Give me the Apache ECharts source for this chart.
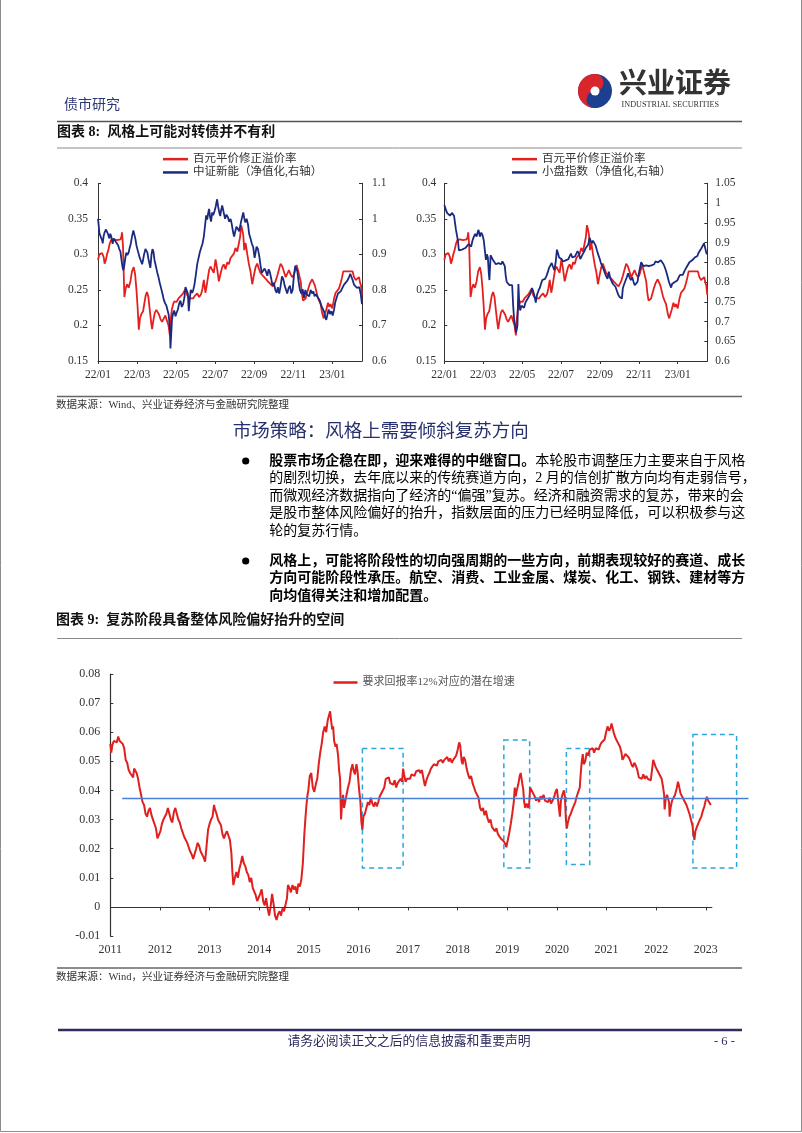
<!DOCTYPE html>
<html><head><meta charset="utf-8">
<script src="https://cdn.jsdelivr.net/npm/echarts@6/dist/echarts.min.js"></script>
<style>html,body{margin:0;padding:0;background:#fff}#main{width:802px;height:1133px}</style>
</head><body><div id="main"></div>
<script>
// ---------- DATA ----------
// Top charts: x = months since 2022-01-01
const monthTicks = [0, 2, 4, 6, 8, 10, 12];
const monthLabels = ['22/01', '22/03', '22/05', '22/07', '22/09', '22/11', '23/01'];
const premiumName = '百元平价修正溢价率';
const newEnergyName = '中证新能（净值化,右轴）';
const smallCapName = '小盘指数（净值化,右轴）';
// 百元平价修正溢价率
const premium = [[0.00,0.292],[0.07,0.300],[0.15,0.298],[0.21,0.302],[0.29,0.296],[0.34,0.287],[0.41,0.293],[0.46,0.300],[0.53,0.306],[0.60,0.315],[0.67,0.320],[0.72,0.322],[0.80,0.321],[0.89,0.323],[0.97,0.320],[1.06,0.322],[1.15,0.321],[1.20,0.325],[1.23,0.331],[1.28,0.312],[1.35,0.240],[1.42,0.252],[1.49,0.258],[1.57,0.253],[1.66,0.262],[1.74,0.276],[1.83,0.282],[1.90,0.272],[1.97,0.250],[2.03,0.225],[2.09,0.194],[2.15,0.210],[2.22,0.216],[2.31,0.220],[2.38,0.232],[2.44,0.242],[2.51,0.247],[2.58,0.240],[2.65,0.222],[2.72,0.205],[2.77,0.195],[2.84,0.208],[2.91,0.218],[2.99,0.222],[3.06,0.223],[3.13,0.215],[3.20,0.209],[3.28,0.205],[3.37,0.210],[3.45,0.214],[3.54,0.206],[3.61,0.200],[3.68,0.186],[3.73,0.210],[3.78,0.222],[3.85,0.230],[3.91,0.234],[4.02,0.233],[4.12,0.238],[4.22,0.240],[4.33,0.244],[4.43,0.249],[4.50,0.252],[4.56,0.243],[4.67,0.238],[4.77,0.240],[4.87,0.238],[4.97,0.242],[5.08,0.245],[5.18,0.240],[5.28,0.244],[5.35,0.252],[5.42,0.264],[5.50,0.246],[5.56,0.255],[5.62,0.266],[5.69,0.278],[5.76,0.283],[5.85,0.281],[5.93,0.274],[6.02,0.293],[6.10,0.280],[6.19,0.262],[6.27,0.272],[6.36,0.282],[6.44,0.286],[6.53,0.279],[6.62,0.289],[6.70,0.286],[6.79,0.295],[6.87,0.293],[6.96,0.301],[7.04,0.309],[7.13,0.304],[7.21,0.315],[7.28,0.325],[7.33,0.341],[7.38,0.336],[7.44,0.327],[7.49,0.306],[7.56,0.316],[7.64,0.301],[7.73,0.286],[7.81,0.276],[7.90,0.258],[7.98,0.270],[8.07,0.282],[8.15,0.287],[8.24,0.280],[8.32,0.274],[8.44,0.270],[8.58,0.266],[8.70,0.262],[8.84,0.258],[8.96,0.255],[9.09,0.262],[9.18,0.270],[9.26,0.278],[9.35,0.287],[9.44,0.283],[9.52,0.276],[9.61,0.268],[9.69,0.266],[9.78,0.278],[9.86,0.272],[9.95,0.268],[10.03,0.271],[10.12,0.280],[10.17,0.285],[10.24,0.278],[10.31,0.270],[10.38,0.262],[10.44,0.245],[10.50,0.235],[10.56,0.236],[10.63,0.238],[10.70,0.245],[10.77,0.252],[10.84,0.258],[10.91,0.262],[10.97,0.265],[11.04,0.264],[11.11,0.256],[11.18,0.248],[11.25,0.240],[11.32,0.235],[11.40,0.230],[11.49,0.216],[11.56,0.210],[11.62,0.212],[11.69,0.222],[11.78,0.232],[11.85,0.226],[11.91,0.230],[12.00,0.224],[12.09,0.238],[12.17,0.246],[12.26,0.249],[12.34,0.252],[12.43,0.260],[12.50,0.268],[12.56,0.276],[12.67,0.276],[12.77,0.275],[12.87,0.276],[12.97,0.274],[13.04,0.276],[13.11,0.268],[13.20,0.264],[13.28,0.266],[13.37,0.268],[13.42,0.260],[13.47,0.256],[13.52,0.243]];
// 中证新能（净值化）
const newEnergy = [[0.00,1.000],[0.03,0.985],[0.07,0.960],[0.12,0.955],[0.15,0.948],[0.21,0.940],[0.24,0.931],[0.29,0.952],[0.34,0.962],[0.41,0.970],[0.46,0.966],[0.51,0.958],[0.58,0.945],[0.63,0.958],[0.68,0.950],[0.75,0.930],[0.80,0.945],[0.87,0.940],[0.92,0.935],[0.97,0.930],[1.03,0.926],[1.09,0.915],[1.15,0.908],[1.20,0.885],[1.25,0.866],[1.30,0.855],[1.35,0.870],[1.40,0.890],[1.45,0.905],[1.50,0.898],[1.57,0.905],[1.62,0.918],[1.68,0.930],[1.74,0.950],[1.81,0.967],[1.86,0.962],[1.91,0.945],[1.97,0.925],[2.03,0.912],[2.09,0.900],[2.14,0.890],[2.21,0.880],[2.26,0.872],[2.31,0.885],[2.36,0.900],[2.43,0.915],[2.48,0.912],[2.53,0.905],[2.58,0.888],[2.63,0.875],[2.68,0.862],[2.74,0.900],[2.79,0.915],[2.84,0.908],[2.89,0.885],[2.96,0.868],[3.03,0.850],[3.09,0.838],[3.16,0.820],[3.23,0.805],[3.30,0.790],[3.37,0.772],[3.44,0.762],[3.50,0.756],[3.57,0.752],[3.62,0.730],[3.68,0.690],[3.71,0.635],[3.74,0.665],[3.79,0.718],[3.85,0.735],[3.90,0.742],[3.97,0.726],[4.02,0.735],[4.09,0.745],[4.15,0.760],[4.22,0.770],[4.29,0.752],[4.36,0.760],[4.43,0.780],[4.48,0.808],[4.55,0.812],[4.60,0.790],[4.65,0.740],[4.70,0.775],[4.75,0.800],[4.82,0.792],[4.87,0.798],[4.94,0.815],[5.01,0.842],[5.08,0.872],[5.15,0.890],[5.21,0.905],[5.28,0.918],[5.35,0.930],[5.42,0.950],[5.49,0.985],[5.54,1.010],[5.59,0.998],[5.64,1.015],[5.69,1.028],[5.74,1.005],[5.79,0.992],[5.85,1.018],[5.90,1.010],[5.97,1.022],[6.03,1.035],[6.10,1.055],[6.15,1.035],[6.21,1.018],[6.26,1.008],[6.31,1.025],[6.36,1.038],[6.41,1.025],[6.46,1.012],[6.51,1.000],[6.58,1.012],[6.65,1.005],[6.72,0.992],[6.79,1.000],[6.85,0.985],[6.92,0.962],[6.97,0.950],[7.03,0.965],[7.09,0.978],[7.16,0.972],[7.23,0.965],[7.30,0.985],[7.36,1.000],[7.44,1.018],[7.49,1.002],[7.54,0.990],[7.61,1.000],[7.68,0.985],[7.74,0.958],[7.81,0.945],[7.88,0.930],[7.95,0.920],[8.02,0.890],[8.07,0.905],[8.12,0.922],[8.19,0.915],[8.26,0.895],[8.32,0.870],[8.39,0.848],[8.46,0.852],[8.53,0.860],[8.60,0.852],[8.67,0.840],[8.74,0.858],[8.80,0.850],[8.87,0.832],[8.94,0.812],[9.01,0.820],[9.08,0.800],[9.15,0.792],[9.21,0.808],[9.28,0.790],[9.35,0.810],[9.42,0.838],[9.49,0.830],[9.56,0.812],[9.62,0.802],[9.69,0.790],[9.76,0.805],[9.83,0.812],[9.90,0.790],[9.97,0.800],[10.03,0.838],[10.10,0.868],[10.15,0.870],[10.21,0.852],[10.27,0.825],[10.34,0.800],[10.41,0.790],[10.48,0.802],[10.55,0.778],[10.62,0.800],[10.68,0.788],[10.75,0.792],[10.82,0.782],[10.89,0.800],[10.96,0.790],[11.03,0.796],[11.09,0.782],[11.16,0.788],[11.23,0.792],[11.30,0.775],[11.37,0.768],[11.44,0.755],[11.50,0.748],[11.57,0.740],[11.64,0.722],[11.69,0.716],[11.74,0.728],[11.81,0.745],[11.88,0.732],[11.95,0.740],[12.02,0.728],[12.09,0.745],[12.15,0.765],[12.22,0.778],[12.29,0.790],[12.36,0.786],[12.43,0.796],[12.51,0.805],[12.60,0.815],[12.68,0.820],[12.77,0.826],[12.85,0.835],[12.92,0.845],[12.97,0.840],[13.04,0.828],[13.11,0.815],[13.18,0.812],[13.25,0.806],[13.32,0.810],[13.38,0.808],[13.45,0.790],[13.52,0.760]];
// 小盘指数（净值化）
const smallCap = [[0.00,0.995],[0.03,1.000],[0.09,0.982],[0.14,0.975],[0.19,0.978],[0.24,0.970],[0.29,0.968],[0.34,0.965],[0.39,0.975],[0.44,0.980],[0.50,0.968],[0.55,0.950],[0.60,0.932],[0.65,0.928],[0.70,0.905],[0.75,0.880],[0.82,0.878],[0.91,0.882],[0.99,0.885],[1.08,0.886],[1.16,0.890],[1.25,0.896],[1.32,0.900],[1.38,0.890],[1.45,0.905],[1.52,0.915],[1.59,0.922],[1.66,0.915],[1.71,0.925],[1.76,0.932],[1.83,0.915],[1.90,0.925],[1.97,0.918],[2.03,0.905],[2.09,0.878],[2.14,0.856],[2.19,0.870],[2.24,0.862],[2.29,0.820],[2.32,0.805],[2.38,0.868],[2.44,0.862],[2.51,0.855],[2.58,0.850],[2.65,0.845],[2.72,0.840],[2.79,0.848],[2.85,0.850],[2.92,0.845],[2.99,0.852],[3.06,0.855],[3.11,0.840],[3.16,0.815],[3.21,0.800],[3.28,0.802],[3.35,0.792],[3.42,0.790],[3.49,0.792],[3.54,0.740],[3.59,0.705],[3.64,0.690],[3.69,0.672],[3.73,0.668],[3.76,0.690],[3.81,0.795],[3.85,0.750],[3.90,0.728],[3.97,0.740],[4.03,0.738],[4.10,0.735],[4.17,0.748],[4.24,0.752],[4.31,0.760],[4.38,0.765],[4.44,0.772],[4.51,0.785],[4.58,0.775],[4.65,0.762],[4.70,0.748],[4.77,0.768],[4.84,0.778],[4.91,0.785],[4.97,0.795],[5.04,0.805],[5.11,0.810],[5.18,0.808],[5.25,0.815],[5.32,0.825],[5.38,0.835],[5.45,0.842],[5.52,0.848],[5.59,0.838],[5.66,0.830],[5.73,0.852],[5.79,0.882],[5.85,0.872],[5.90,0.862],[5.97,0.865],[6.03,0.858],[6.10,0.852],[6.17,0.848],[6.24,0.855],[6.31,0.860],[6.38,0.858],[6.44,0.865],[6.51,0.872],[6.58,0.862],[6.65,0.858],[6.72,0.865],[6.79,0.868],[6.85,0.878],[6.92,0.872],[6.99,0.858],[7.06,0.865],[7.13,0.872],[7.20,0.878],[7.26,0.885],[7.33,0.888],[7.40,0.895],[7.47,0.912],[7.52,0.905],[7.57,0.898],[7.64,0.905],[7.71,0.910],[7.78,0.892],[7.85,0.880],[7.91,0.870],[7.98,0.860],[8.05,0.848],[8.12,0.840],[8.19,0.832],[8.26,0.822],[8.32,0.815],[8.39,0.808],[8.46,0.826],[8.53,0.810],[8.60,0.802],[8.67,0.795],[8.74,0.800],[8.80,0.788],[8.87,0.778],[8.94,0.768],[9.01,0.762],[9.08,0.760],[9.13,0.758],[9.18,0.785],[9.25,0.795],[9.32,0.800],[9.38,0.812],[9.45,0.822],[9.52,0.812],[9.59,0.805],[9.66,0.812],[9.73,0.800],[9.79,0.792],[9.86,0.788],[9.93,0.800],[10.00,0.822],[10.07,0.838],[10.12,0.850],[10.17,0.845],[10.24,0.840],[10.31,0.838],[10.38,0.842],[10.44,0.845],[10.51,0.840],[10.58,0.835],[10.65,0.842],[10.72,0.838],[10.79,0.845],[10.85,0.852],[10.92,0.855],[10.99,0.850],[11.06,0.852],[11.13,0.855],[11.20,0.850],[11.27,0.845],[11.33,0.838],[11.40,0.828],[11.47,0.815],[11.54,0.802],[11.61,0.792],[11.66,0.786],[11.71,0.795],[11.78,0.792],[11.85,0.800],[11.91,0.805],[11.98,0.804],[12.05,0.812],[12.12,0.818],[12.19,0.820],[12.26,0.818],[12.32,0.825],[12.39,0.832],[12.46,0.838],[12.53,0.842],[12.60,0.850],[12.67,0.850],[12.74,0.855],[12.80,0.858],[12.87,0.862],[12.94,0.865],[13.01,0.866],[13.08,0.875],[13.15,0.878],[13.21,0.885],[13.28,0.890],[13.35,0.898],[13.40,0.902],[13.44,0.895],[13.49,0.870]];

// Bottom chart: x = decimal year
const yearTicks = [2011,2012,2013,2014,2015,2016,2017,2018,2019,2020,2021,2022,2023];
const growthName = '要求回报率12%对应的潜在增速';
const growth = [[2011.00,0.0560],[2011.02,0.0530],[2011.04,0.0555],[2011.07,0.0570],[2011.10,0.0575],[2011.13,0.0565],[2011.16,0.0585],[2011.19,0.0570],[2011.22,0.0565],[2011.25,0.0560],[2011.28,0.0545],[2011.31,0.0505],[2011.34,0.0495],[2011.37,0.0470],[2011.40,0.0460],[2011.43,0.0455],[2011.46,0.0445],[2011.48,0.0475],[2011.50,0.0480],[2011.53,0.0460],[2011.56,0.0440],[2011.59,0.0410],[2011.62,0.0385],[2011.65,0.0360],[2011.68,0.0350],[2011.71,0.0320],[2011.74,0.0310],[2011.77,0.0330],[2011.80,0.0340],[2011.83,0.0315],[2011.86,0.0300],[2011.89,0.0300],[2011.92,0.0270],[2011.95,0.0235],[2011.98,0.0230],[2012.01,0.0260],[2012.04,0.0285],[2012.07,0.0300],[2012.10,0.0305],[2012.13,0.0320],[2012.16,0.0340],[2012.19,0.0320],[2012.22,0.0300],[2012.25,0.0290],[2012.28,0.0325],[2012.31,0.0340],[2012.34,0.0320],[2012.37,0.0300],[2012.40,0.0290],[2012.43,0.0270],[2012.46,0.0255],[2012.49,0.0240],[2012.52,0.0235],[2012.55,0.0220],[2012.58,0.0205],[2012.61,0.0190],[2012.64,0.0180],[2012.67,0.0165],[2012.70,0.0160],[2012.73,0.0200],[2012.76,0.0220],[2012.79,0.0210],[2012.82,0.0190],[2012.85,0.0195],[2012.88,0.0170],[2012.91,0.0155],[2012.94,0.0210],[2012.97,0.0265],[2013.00,0.0285],[2013.03,0.0300],[2013.06,0.0310],[2013.09,0.0350],[2013.11,0.0335],[2013.14,0.0320],[2013.17,0.0300],[2013.20,0.0290],[2013.23,0.0280],[2013.26,0.0250],[2013.29,0.0235],[2013.32,0.0250],[2013.35,0.0260],[2013.38,0.0255],[2013.41,0.0230],[2013.44,0.0185],[2013.46,0.0120],[2013.48,0.0075],[2013.51,0.0100],[2013.54,0.0120],[2013.57,0.0100],[2013.60,0.0130],[2013.63,0.0150],[2013.66,0.0175],[2013.69,0.0150],[2013.72,0.0140],[2013.75,0.0120],[2013.78,0.0110],[2013.81,0.0085],[2013.84,0.0100],[2013.87,0.0065],[2013.90,0.0060],[2013.93,0.0040],[2013.96,0.0020],[2013.99,0.0025],[2014.02,0.0045],[2014.05,0.0060],[2014.08,0.0020],[2014.11,0.0005],[2014.14,0.0030],[2014.17,-0.0005],[2014.20,-0.0030],[2014.23,0.0000],[2014.26,0.0045],[2014.29,0.0010],[2014.32,-0.0030],[2014.35,-0.0045],[2014.38,-0.0025],[2014.41,-0.0015],[2014.44,-0.0030],[2014.47,-0.0005],[2014.50,-0.0015],[2014.53,-0.0020],[2014.56,0.0030],[2014.58,0.0075],[2014.61,0.0065],[2014.64,0.0050],[2014.67,0.0075],[2014.70,0.0060],[2014.73,0.0070],[2014.76,0.0045],[2014.79,0.0080],[2014.82,0.0070],[2014.85,0.0095],[2014.88,0.0150],[2014.91,0.0250],[2014.93,0.0300],[2014.95,0.0345],[2014.97,0.0380],[2014.99,0.0400],[2015.02,0.0450],[2015.05,0.0460],[2015.08,0.0410],[2015.11,0.0395],[2015.14,0.0420],[2015.17,0.0440],[2015.20,0.0490],[2015.23,0.0530],[2015.26,0.0560],[2015.29,0.0600],[2015.32,0.0620],[2015.35,0.0600],[2015.38,0.0640],[2015.41,0.0660],[2015.43,0.0672],[2015.45,0.0640],[2015.47,0.0610],[2015.49,0.0620],[2015.51,0.0570],[2015.54,0.0550],[2015.56,0.0560],[2015.59,0.0520],[2015.61,0.0470],[2015.63,0.0440],[2015.65,0.0300],[2015.67,0.0360],[2015.69,0.0385],[2015.71,0.0340],[2015.73,0.0345],[2015.76,0.0385],[2015.79,0.0410],[2015.82,0.0430],[2015.85,0.0470],[2015.88,0.0490],[2015.90,0.0470],[2015.93,0.0455],[2015.96,0.0490],[2015.98,0.0470],[2016.01,0.0410],[2016.04,0.0360],[2016.06,0.0290],[2016.08,0.0265],[2016.10,0.0310],[2016.13,0.0320],[2016.16,0.0340],[2016.19,0.0360],[2016.22,0.0350],[2016.25,0.0375],[2016.28,0.0355],[2016.31,0.0345],[2016.34,0.0360],[2016.37,0.0345],[2016.40,0.0360],[2016.43,0.0380],[2016.46,0.0375],[2016.49,0.0400],[2016.52,0.0410],[2016.55,0.0440],[2016.58,0.0435],[2016.61,0.0445],[2016.64,0.0425],[2016.67,0.0430],[2016.70,0.0420],[2016.73,0.0435],[2016.76,0.0410],[2016.79,0.0425],[2016.82,0.0420],[2016.85,0.0440],[2016.88,0.0430],[2016.90,0.0475],[2016.92,0.0455],[2016.95,0.0430],[2016.98,0.0440],[2017.01,0.0445],[2017.04,0.0440],[2017.07,0.0455],[2017.10,0.0460],[2017.13,0.0450],[2017.16,0.0465],[2017.19,0.0460],[2017.22,0.0470],[2017.25,0.0460],[2017.28,0.0470],[2017.31,0.0440],[2017.34,0.0415],[2017.37,0.0435],[2017.40,0.0450],[2017.43,0.0460],[2017.46,0.0475],[2017.49,0.0480],[2017.52,0.0490],[2017.55,0.0495],[2017.58,0.0485],[2017.61,0.0500],[2017.64,0.0495],[2017.67,0.0505],[2017.70,0.0495],[2017.73,0.0505],[2017.76,0.0500],[2017.79,0.0515],[2017.82,0.0500],[2017.85,0.0510],[2017.88,0.0495],[2017.91,0.0505],[2017.94,0.0500],[2017.97,0.0520],[2018.00,0.0540],[2018.03,0.0565],[2018.05,0.0555],[2018.08,0.0500],[2018.10,0.0490],[2018.12,0.0515],[2018.15,0.0505],[2018.18,0.0475],[2018.21,0.0455],[2018.24,0.0440],[2018.27,0.0450],[2018.30,0.0425],[2018.33,0.0410],[2018.36,0.0395],[2018.39,0.0385],[2018.42,0.0375],[2018.45,0.0340],[2018.48,0.0330],[2018.51,0.0340],[2018.54,0.0315],[2018.57,0.0330],[2018.60,0.0305],[2018.63,0.0290],[2018.66,0.0300],[2018.69,0.0275],[2018.72,0.0280],[2018.75,0.0260],[2018.78,0.0270],[2018.81,0.0250],[2018.84,0.0245],[2018.87,0.0235],[2018.90,0.0240],[2018.93,0.0225],[2018.96,0.0215],[2018.98,0.0205],[2019.01,0.0230],[2019.04,0.0255],[2019.07,0.0285],[2019.10,0.0320],[2019.13,0.0360],[2019.15,0.0410],[2019.17,0.0380],[2019.19,0.0400],[2019.22,0.0420],[2019.25,0.0450],[2019.27,0.0460],[2019.30,0.0425],[2019.32,0.0405],[2019.34,0.0360],[2019.36,0.0340],[2019.39,0.0355],[2019.42,0.0340],[2019.44,0.0355],[2019.46,0.0410],[2019.49,0.0400],[2019.52,0.0390],[2019.55,0.0380],[2019.58,0.0365],[2019.61,0.0375],[2019.64,0.0360],[2019.67,0.0380],[2019.70,0.0370],[2019.73,0.0385],[2019.76,0.0365],[2019.79,0.0370],[2019.82,0.0360],[2019.85,0.0375],[2019.88,0.0355],[2019.91,0.0350],[2019.94,0.0375],[2019.97,0.0395],[2020.00,0.0405],[2020.02,0.0410],[2020.04,0.0340],[2020.06,0.0310],[2020.08,0.0365],[2020.11,0.0385],[2020.14,0.0400],[2020.16,0.0380],[2020.18,0.0300],[2020.20,0.0270],[2020.22,0.0290],[2020.25,0.0310],[2020.28,0.0320],[2020.31,0.0335],[2020.34,0.0330],[2020.37,0.0360],[2020.40,0.0380],[2020.43,0.0395],[2020.46,0.0410],[2020.48,0.0460],[2020.50,0.0500],[2020.52,0.0525],[2020.54,0.0490],[2020.57,0.0500],[2020.60,0.0530],[2020.63,0.0520],[2020.66,0.0540],[2020.69,0.0535],[2020.72,0.0545],[2020.75,0.0530],[2020.78,0.0545],[2020.81,0.0550],[2020.84,0.0540],[2020.87,0.0555],[2020.90,0.0565],[2020.93,0.0560],[2020.96,0.0575],[2020.99,0.0600],[2021.02,0.0620],[2021.05,0.0605],[2021.08,0.0615],[2021.10,0.0630],[2021.12,0.0615],[2021.15,0.0595],[2021.18,0.0580],[2021.21,0.0575],[2021.24,0.0560],[2021.27,0.0550],[2021.30,0.0530],[2021.32,0.0505],[2021.35,0.0515],[2021.38,0.0525],[2021.41,0.0530],[2021.44,0.0515],[2021.47,0.0505],[2021.50,0.0490],[2021.53,0.0480],[2021.56,0.0495],[2021.59,0.0485],[2021.62,0.0470],[2021.65,0.0445],[2021.68,0.0450],[2021.71,0.0440],[2021.74,0.0455],[2021.77,0.0440],[2021.80,0.0450],[2021.83,0.0440],[2021.86,0.0445],[2021.89,0.0435],[2021.92,0.0440],[2021.94,0.0505],[2021.96,0.0495],[2021.99,0.0480],[2022.02,0.0470],[2022.05,0.0460],[2022.08,0.0455],[2022.11,0.0440],[2022.14,0.0410],[2022.16,0.0385],[2022.17,0.0335],[2022.19,0.0370],[2022.22,0.0385],[2022.24,0.0370],[2022.26,0.0360],[2022.27,0.0310],[2022.29,0.0340],[2022.32,0.0365],[2022.35,0.0370],[2022.38,0.0385],[2022.41,0.0405],[2022.44,0.0430],[2022.46,0.0415],[2022.49,0.0390],[2022.52,0.0385],[2022.55,0.0370],[2022.58,0.0365],[2022.61,0.0350],[2022.64,0.0355],[2022.67,0.0320],[2022.70,0.0300],[2022.73,0.0280],[2022.75,0.0250],[2022.77,0.0230],[2022.79,0.0260],[2022.82,0.0275],[2022.85,0.0280],[2022.88,0.0300],[2022.91,0.0310],[2022.94,0.0330],[2022.97,0.0345],[2022.99,0.0360],[2023.02,0.0378],[2023.05,0.0365],[2023.08,0.0370],[2023.10,0.0350]];
// reference level line and highlighted windows [x0, x1, yTop, yBottom]
const refLevel = 0.0372;
const refSpan = [2011.24, 2023.86];
const zeroSpan = [2011, 2023.13];
const boxes = [[2016.08, 2016.90, 0.0544, 0.0134],[2018.93, 2019.45, 0.0573, 0.0134],[2020.19, 2020.66, 0.0544, 0.0146],[2022.74, 2023.62, 0.0592, 0.0134]];

// ---------- STYLE ----------
const SERIF = '"Liberation Serif", "Noto Sans CJK SC", serif';
const RED = '#e4201f', NAVY = '#1b2a80', AX = '#333';
const fmt = v => String(Math.round(v * 1000) / 1000);

function topX(g) {
  return { type: 'value', gridIndex: g, min: 0, max: 13.52, interval: 2,
    axisLine: { onZero: false, lineStyle: { color: AX, width: 1 } },
    axisTick: { customValues: monthTicks, length: 3, lineStyle: { color: AX } },
    axisLabel: { customValues: monthTicks, margin: 8, color: '#333', fontFamily: SERIF, fontSize: 11.5,
      formatter: v => { const i = monthTicks.indexOf(Math.round(v)); return (Math.abs(v - Math.round(v)) < 1e-6 && i >= 0) ? monthLabels[i] : ''; } },
    splitLine: { show: false } };
}
function topY(g, min, max, interval, pos, margin) {
  return { type: 'value', gridIndex: g, min, max, interval, position: pos,
    axisLine: { show: true, onZero: false, lineStyle: { color: AX, width: 1 } },
    axisTick: { show: true, inside: true, length: 3, lineStyle: { color: AX } },
    axisLabel: { formatter: fmt, margin, color: '#333', fontFamily: SERIF, fontSize: 11.5 },
    splitLine: { show: false } };
}
function lineSeries(name, data, xi, yi, color, z, w) {
  return { name, type: 'line', data, xAxisIndex: xi, yAxisIndex: yi, showSymbol: false, symbol: 'none',
    lineStyle: { color, width: w || 1.8 }, itemStyle: { color }, z: z || 2, silent: true };
}

// ---------- GRAPHIC (page text) ----------
function T(x, y, text, o) {
  return { type: 'text', x, y, silent: true, z: 10,
    style: Object.assign({ text, fill: '#111', fontSize: 14, fontFamily: SERIF,
      align: 'left', textAlign: 'left', verticalAlign: 'middle', textVerticalAlign: 'middle' }, o || {}) };
}
function L(x1, y1, x2, y2, stroke, w) {
  return { type: 'line', silent: true, z: 10, shape: { x1, y1, x2, y2 }, style: { stroke, lineWidth: w } };
}
const boldRich = { b: { fontWeight: 'bold', fontSize: 14, fontFamily: SERIF, fill: '#000' } };
const bx = 269.3;
const b1 = [461, 478.6, 496.2, 513.8, 531.4];
const b2 = [561, 578.6, 596.2];
const graphics = [
  // page frame
  { type: 'polyline', silent: true, shape: { points: [[0.5, 0], [0.5, 1131.5], [801.5, 1131.5], [801.5, 0]] }, style: { stroke: '#8c8c8c', lineWidth: 1, fill: null } },
  T(64, 105, '债市研究', { fontSize: 14, fill: '#2b3878' }),
  // logo
  { type: 'circle', silent: true, shape: { cx: 595, cy: 91, r: 17 }, style: { fill: '#1d3f8f' } },
  { type: 'sector', silent: true, shape: { cx: 595, cy: 91, r: 17, r0: 0, startAngle: Math.PI / 2, endAngle: Math.PI * 1.5 }, style: { fill: '#d9262c' } },
  { type: 'circle', silent: true, shape: { cx: 595, cy: 82.5, r: 8.5 }, style: { fill: '#d9262c' } },
  { type: 'circle', silent: true, shape: { cx: 595, cy: 99.5, r: 8.5 }, style: { fill: '#1d3f8f' } },
  { type: 'circle', silent: true, shape: { cx: 595, cy: 91, r: 4.5 }, style: { fill: '#fff' } },
  T(619, 86, '兴业证券', { fontSize: 28, fontWeight: 'bold', fill: '#333' }),
  T(621.5, 105, 'INDUSTRIAL SECURITIES', { fontSize: 8.2, fill: '#333' }),
  L(57, 121.5, 742, 121.5, '#555', 1.5),
  T(57, 132.5, '图表 8:  风格上可能对转债并不有利', { fontWeight: 'bold', fontSize: 14 }),
  L(57, 148, 742, 148, '#8a8a8a', 1),
  L(57, 396.5, 742, 396.5, '#666', 1.5),
  T(56, 405.5, '数据来源：Wind、兴业证券经济与金融研究院整理', { fontSize: 10.5, fill: '#333' }),
  T(232.7, 432, '市场策略：风格上需要倾斜复苏方向', { fontSize: 18.5, fill: '#27306e' }),
  { type: 'circle', silent: true, shape: { cx: 245.7, cy: b1[0], r: 3.6 }, style: { fill: '#000' } },
  T(bx, b1[0], '{b|股票市场企稳在即，迎来难得的中继窗口。}本轮股市调整压力主要来自于风格', { rich: boldRich, fill: '#000' }),
  T(bx, b1[1], '的剧烈切换，去年底以来的传统赛道方向，2 月的信创扩散方向均有走弱信号，', { fill: '#000' }),
  T(bx, b1[2], '而微观经济数据指向了经济的“偏强”复苏。经济和融资需求的复苏，带来的会', { fill: '#000' }),
  T(bx, b1[3], '是股市整体风险偏好的抬升，指数层面的压力已经明显降低，可以积极参与这', { fill: '#000' }),
  T(bx, b1[4], '轮的复苏行情。', { fill: '#000' }),
  { type: 'circle', silent: true, shape: { cx: 245.7, cy: b2[0], r: 3.6 }, style: { fill: '#000' } },
  T(bx, b2[0], '风格上，可能将阶段性的切向强周期的一些方向，前期表现较好的赛道、成长', { fontWeight: 'bold', fill: '#000' }),
  T(bx, b2[1], '方向可能阶段性承压。航空、消费、工业金属、煤炭、化工、钢铁、建材等方', { fontWeight: 'bold', fill: '#000' }),
  T(bx, b2[2], '向均值得关注和增加配置。', { fontWeight: 'bold', fill: '#000' }),
  T(56, 620, '图表 9:  复苏阶段具备整体风险偏好抬升的空间', { fontWeight: 'bold', fontSize: 14 }),
  L(57, 638.5, 742, 638.5, '#8a8a8a', 1),
  L(57, 968, 742, 968, '#666', 1.5),
  T(56, 977, '数据来源：Wind，兴业证券经济与金融研究院整理', { fontSize: 10.5, fill: '#333' }),
  L(58, 1030, 742, 1030, '#2e2c60', 2.5),
  T(409, 1042, '请务必阅读正文之后的信息披露和重要声明', { fontSize: 12.8, fill: '#2c2a5c', align: 'center', textAlign: 'center' }),
  T(714, 1042, '- 6 -', { fontSize: 12.5, fill: '#2c2a5c' })
];

// ---------- OPTION ----------
const legendBase = { orient: 'vertical', icon: 'rect', itemWidth: 25, itemHeight: 2.5, itemGap: 0, padding: 0, selectedMode: false,
  textStyle: { fontSize: 11.5, color: '#333', fontFamily: SERIF, lineHeight: 13.3 } };

const option = {
  backgroundColor: '#fff',
  animation: false,
  legend: [
    Object.assign({}, legendBase, { left: 163, top: 152.5, data: [premiumName, newEnergyName] }),
    Object.assign({}, legendBase, { left: 512, top: 152.5, data: [premiumName, smallCapName] }),
    Object.assign({}, legendBase, { left: 333.5, top: 676, itemWidth: 24, data: [growthName], textStyle: { fontSize: 11, color: '#555', fontFamily: SERIF, lineHeight: 13 } })
  ],
  grid: [
    { left: 98, top: 183.3, width: 264, height: 177.7, containLabel: false },
    { left: 444.3, top: 183.3, width: 263, height: 177.7, containLabel: false },
    { left: 110.3, top: 674, width: 638.7, height: 262, containLabel: false }
  ],
  xAxis: [
    topX(0),
    topX(1),
    { type: 'value', gridIndex: 2, min: 2011, max: 2023.87, interval: 1,
      axisLine: { show: false, onZero: false }, axisTick: { show: false },
      axisLabel: { customValues: yearTicks, margin: 8, color: '#333', fontFamily: SERIF, fontSize: 12,
        formatter: v => Math.abs(v - Math.round(v)) < 1e-6 ? String(Math.round(v)) : '' },
      splitLine: { show: false } },
    { type: 'value', gridIndex: 2, min: 2011, max: 2023.87, interval: 1,
      axisLine: { show: false, onZero: true }, axisLabel: { show: false },
      axisTick: { show: true, inside: true, length: 3.5, customValues: yearTicks.slice(1), lineStyle: { color: AX } },
      splitLine: { show: false } }
  ],
  yAxis: [
    topY(0, 0.15, 0.4, 0.05, 'left', 10),
    topY(0, 0.6, 1.1, 0.1, 'right', 10),
    topY(1, 0.15, 0.4, 0.05, 'left', 8),
    topY(1, 0.6, 1.05, 0.05, 'right', 8),
    { type: 'value', gridIndex: 2, min: -0.01, max: 0.08, interval: 0.01,
      axisLine: { show: true, onZero: false, lineStyle: { color: AX, width: 1.2 } },
      axisTick: { show: true, inside: true, length: 3, lineStyle: { color: AX } },
      axisLabel: { formatter: fmt, margin: 10, color: '#333', fontFamily: SERIF, fontSize: 12 },
      splitLine: { show: false } }
  ],
  series: [
    lineSeries(premiumName, premium, 0, 0, RED, 3),
    lineSeries(newEnergyName, newEnergy, 0, 1, NAVY, 4),
    lineSeries(premiumName, premium, 1, 2, RED, 3),
    lineSeries(smallCapName, smallCap, 1, 3, NAVY, 4),
    { type: 'line', xAxisIndex: 2, yAxisIndex: 4, data: [], silent: true, z: 1,
      markLine: { silent: true, symbol: ['none', 'none'], label: { show: false }, animation: false,
        lineStyle: { color: '#4a7fd6', width: 1.3, type: 'solid' },
        data: [[{ coord: [refSpan[0], refLevel] }, { coord: [refSpan[1], refLevel] }]] } },
    { type: 'line', xAxisIndex: 2, yAxisIndex: 4, data: [], silent: true, z: 1,
      markLine: { silent: true, symbol: ['none', 'none'], label: { show: false }, animation: false,
        lineStyle: { color: AX, width: 1.2, type: 'solid' },
        data: [[{ coord: [zeroSpan[0], 0] }, { coord: [zeroSpan[1], 0] }]] } },
    { type: 'line', xAxisIndex: 2, yAxisIndex: 4, data: [], silent: true, z: 5,
      markArea: { silent: true, label: { show: false }, animation: false,
        itemStyle: { color: 'rgba(0,0,0,0)', borderColor: '#2aa6dc', borderWidth: 1.5, borderType: [5, 4] },
        data: boxes.map(b => [{ coord: [b[0], b[2]] }, { coord: [b[1], b[3]] }]) } },
    lineSeries(growthName, growth, 2, 4, '#e01f1f', 3, 2)
  ],
  graphic: graphics
};

const chart = echarts.init(document.getElementById('main'), null, { renderer: 'canvas', width: 802, height: 1133 });
chart.setOption(option);
</script>
</body></html>
